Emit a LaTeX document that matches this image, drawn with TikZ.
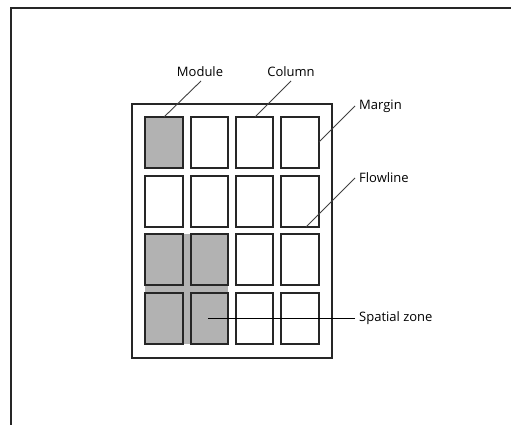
\documentclass[tikz,border=0pt]{standalone}
\usepackage{fontspec}
\setmainfont{Open Sans}
\begin{document}
\begin{tikzpicture}[x=1pt,y=-1pt,
  cell/.style={draw=black!85,line width=1.3pt},
  shaded/.style={cell,fill=black!30},
  leader/.style={draw=black!75,line width=0.9pt},
  lbl/.style={font=\fontsize{13}{15}\selectfont,text=black,inner sep=0pt}]
  \useasboundingbox (0,0) rectangle (511,425);
  % partial page frame
  \draw[line width=1.4pt,black!85] (11,425) -- (11,8) -- (511,8);
  % page outline
  \draw[line width=1.3pt,black!85] (132,104) rectangle (332,358);
  % spatial zone background
  \fill[black!30] (145,234) rectangle (228,344);
  % modules
  \foreach \c/\xa/\xb in {1/145/183,2/191/228,3/236/273,4/281/319}{
    \foreach \r/\ya/\yb in {1/117/168,2/176/227,3/234/285,4/293/344}{
      \path[cell] (\xa,\ya) rectangle (\xb,\yb) coordinate (m\r\c);
      \coordinate (m\r\c-nw) at (\xa,\ya);
    }}
  \foreach \r/\c in {1/1,3/1,3/2,4/1,4/2}{
    \path[shaded] (m\r\c-nw) rectangle (m\r\c);}
  % labels
  \node[lbl] (module) at (200,72) {Module};
  \node[lbl] (column) at (291,72) {Column};
  \node[lbl,anchor=west] (margin) at (359,106) {Margin};
  \node[lbl,anchor=west] (flowline) at (359,178) {Flowline};
  \node[lbl,anchor=west] (zone) at (359,318) {Spatial zone};
  % leader lines
  \coordinate (pModule) at (164,117);
  \coordinate (pColumn) at (255,117);
  \coordinate (pMargin) at (319,142);
  \coordinate (pFlow) at (306,227);
  \coordinate (pZone) at (208,318);
  \draw[leader] (201,81) -- (pModule);
  \draw[leader] (291,81) -- (pColumn);
  \draw[leader] ([xshift=-4pt]margin.west) -- (pMargin);
  \draw[leader] ([xshift=-4pt]flowline.west) -- (pFlow);
  \draw[line width=1pt,black] ([xshift=-4pt]zone.west) -- (pZone);
\end{tikzpicture}
\end{document}
